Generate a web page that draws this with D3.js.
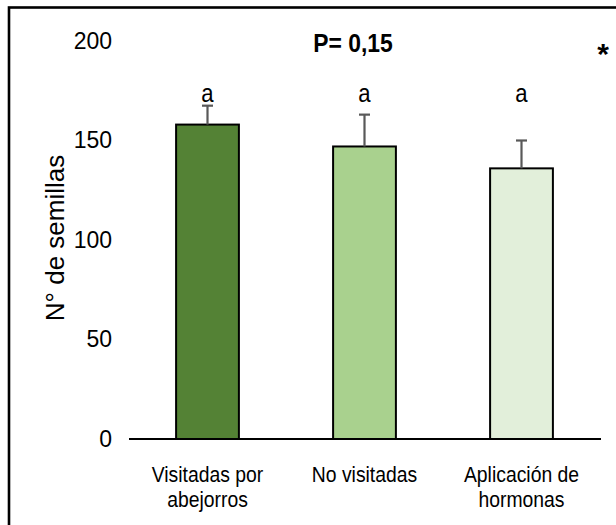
<!DOCTYPE html>
<html>
<head>
<meta charset="utf-8">
<script src="https://cdn.jsdelivr.net/npm/d3@7/dist/d3.min.js"></script>
<style>
  html, body { margin: 0; padding: 0; background: #fff; }
  svg { display: block; font-family: "Liberation Sans", Arial, sans-serif; }
</style>
</head>
<body>
<svg id="chart" width="616" height="525"></svg>
<script>
// Seed counts per pollination treatment
const categories = [["Visitadas por", "abejorros"], ["No visitadas"], ["Aplicación de", "hormonas"]];
const means = [158, 147, 136];
const errors = [9.5, 16, 14];
const letters = ["a", "a", "a"];
const barColors = ["#548235", "#A9D18E", "#E2EFDA"];
const yTicks = [0, 50, 100, 150, 200];
const yTitle = "N° de semillas";
const pLabel = "P= 0,15";

const svg = d3.select("#chart");

// Slightly condensed text, anchored at (x, y)
function condensed(parent, x, y, sx) {
  return parent.append("g")
    .attr("transform", `translate(${x},${y}) scale(${sx},1)`)
    .append("text")
    .attr("text-anchor", "middle")
    .attr("fill", "#000");
}

// Frame around the figure
svg.append("rect")
  .attr("x", 9).attr("y", 7.5)
  .attr("width", 700).attr("height", 600)
  .attr("fill", "none").attr("stroke", "#000").attr("stroke-width", 2.6);

const x = d3.scaleBand()
  .domain(d3.range(categories.length))
  .range([129, 600])
  .paddingInner(0.6).paddingOuter(0.3);

const y = d3.scaleLinear().domain([0, 200]).range([439, 41]);

// Y tick labels (no axis line)
const yAxis = svg.append("g")
  .attr("transform", "translate(129,0)")
  .call(d3.axisLeft(y).tickValues(yTicks).tickSize(0).tickPadding(17));
yAxis.select(".domain").remove();
yAxis.selectAll("text")
  .attr("font-family", "'Liberation Sans', Arial, sans-serif")
  .attr("font-size", 23).attr("fill", "#000");

// Y axis title
svg.append("text")
  .attr("transform", "translate(64,238) rotate(-90)")
  .attr("text-anchor", "middle")
  .attr("font-size", 26).attr("fill", "#000")
  .text(yTitle);

// Bars
svg.append("g").selectAll("rect")
  .data(means)
  .join("rect")
  .attr("x", (d, i) => x(i))
  .attr("y", d => y(d))
  .attr("width", x.bandwidth())
  .attr("height", d => y(0) - y(d))
  .attr("fill", (d, i) => barColors[i])
  .attr("stroke", "#000").attr("stroke-width", 2);

// Upper error bars
const eb = svg.append("g").attr("stroke", "#595959").attr("stroke-width", 2.2);
means.forEach((m, i) => {
  const cx = x(i) + x.bandwidth() / 2;
  eb.append("line")
    .attr("x1", cx).attr("x2", cx)
    .attr("y1", y(m)).attr("y2", y(m + errors[i]));
  eb.append("line")
    .attr("x1", cx - 5.5).attr("x2", cx + 5.5)
    .attr("y1", y(m + errors[i])).attr("y2", y(m + errors[i]));
});

// X axis baseline
const xAxis = svg.append("g")
  .attr("transform", `translate(0,${y(0)})`)
  .call(d3.axisBottom(x).tickSize(0).tickFormat(""));
xAxis.select(".domain")
  .attr("d", "M129,0H601")
  .attr("stroke", "#000").attr("stroke-width", 2.2);

// Category labels
const catG = svg.append("g");
categories.forEach((lines, i) => {
  const t = condensed(catG, x(i) + x.bandwidth() / 2, 482, 0.88).attr("font-size", 22);
  lines.forEach((ln, j) => {
    t.append("tspan")
      .attr("x", 0)
      .attr("dy", j === 0 ? 0 : 25)
      .text(ln);
  });
});

// Significance letters
const letG = svg.append("g");
letters.forEach((l, i) => {
  condensed(letG, x(i) + x.bandwidth() / 2, 102, 0.85)
    .attr("font-size", 26)
    .text(l);
});

// P value
condensed(svg, 353, 52, 0.88)
  .attr("font-size", 26).attr("font-weight", "bold")
  .text(pLabel);

// Asterisk marker
svg.append("text")
  .attr("x", 603).attr("y", 64)
  .attr("text-anchor", "middle")
  .attr("font-size", 30).attr("font-weight", "bold").attr("fill", "#000")
  .text("*");
</script>
</body>
</html>
